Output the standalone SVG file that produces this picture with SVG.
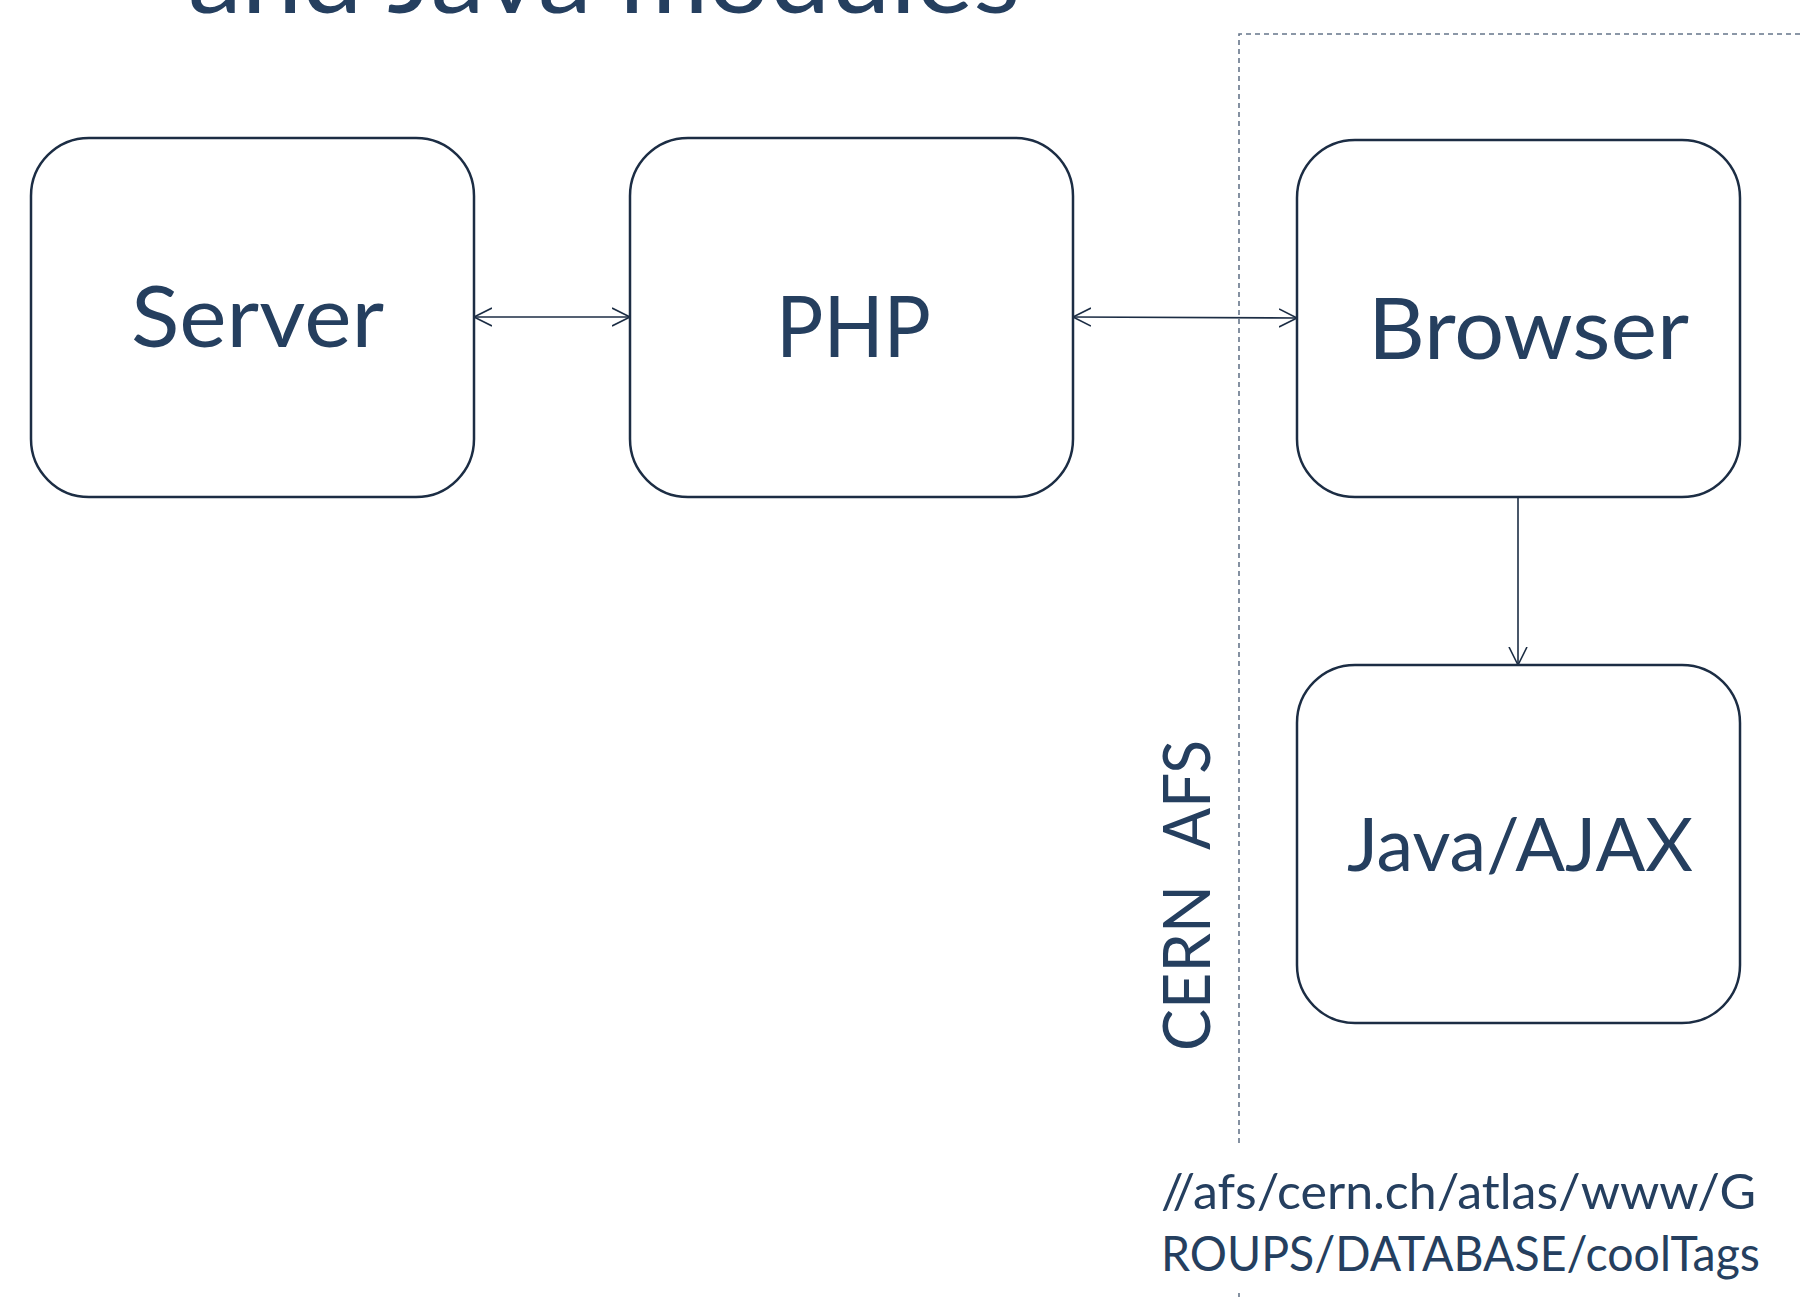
<svg xmlns="http://www.w3.org/2000/svg" width="1800" height="1297" viewBox="0 0 1800 1297">
  <style>
    .box { fill: #ffffff; stroke: #1c2d44; stroke-width: 2.5; }
    .lbl { font-family: Lato, "Open Sans", "Liberation Sans", sans-serif; fill: #253f5f; }
    .conn { stroke: #1c2d44; stroke-width: 1.6; fill: none; }
    .dash { stroke: #66768a; stroke-width: 1.6; fill: none; stroke-dasharray: 5 4; }
  </style>
  <defs>
    <marker id="arr" markerUnits="userSpaceOnUse" markerWidth="22" markerHeight="22" refX="18" refY="10" orient="auto-start-reverse" viewBox="0 0 22 20">
      <path d="M0,1 L18,10 L0,19" fill="none" stroke="#1c2d44" stroke-width="1.6"/>
    </marker>
  </defs>
  <rect width="1800" height="1297" fill="#ffffff"/>

  <text class="lbl" x="188" y="13" font-size="100" textLength="832" lengthAdjust="spacingAndGlyphs">and Java modules</text>

  <g id="boundary">
    <path class="dash" d="M1800,34 H1239 V1143"/>
    <path class="dash" d="M1239,1293 V1297"/>
  </g>

  <g id="connectors">
    <line class="conn" x1="474" y1="317" x2="630" y2="317" marker-start="url(#arr)" marker-end="url(#arr)"/>
    <line class="conn" x1="1073" y1="317" x2="1297" y2="318" marker-start="url(#arr)" marker-end="url(#arr)"/>
    <line class="conn" x1="1518" y1="497" x2="1518" y2="665" marker-end="url(#arr)"/>
  </g>

  <g id="server">
    <rect class="box" x="31" y="138" width="443" height="359" rx="58" ry="58"/>
    <text class="lbl" x="131" y="347" font-size="85" textLength="253" lengthAdjust="spacingAndGlyphs">Server</text>
  </g>

  <g id="php">
    <rect class="box" x="630" y="138" width="443" height="359" rx="58" ry="58"/>
    <text class="lbl" x="776" y="357" font-size="85" textLength="155" lengthAdjust="spacingAndGlyphs">PHP</text>
  </g>

  <g id="browser">
    <rect class="box" x="1297" y="140" width="443" height="357" rx="58" ry="58"/>
    <text class="lbl" x="1368" y="359" font-size="85" textLength="321" lengthAdjust="spacingAndGlyphs">Browser</text>
  </g>

  <g id="java-ajax">
    <rect class="box" x="1297" y="665" width="443" height="358" rx="58" ry="58"/>
    <text class="lbl" x="1347" y="871" font-size="74" textLength="346" lengthAdjust="spacingAndGlyphs">Java/AJAX</text>
  </g>

  <g id="cern-afs">
    <text class="lbl" transform="translate(1210,1051) rotate(-90)" font-size="66"><tspan x="0" textLength="166" lengthAdjust="spacingAndGlyphs">CERN</tspan> <tspan x="201" textLength="110" lengthAdjust="spacingAndGlyphs">AFS</tspan></text>
  </g>

  <g id="afs-path">
    <text class="lbl" x="1161" y="1209" font-size="49" textLength="595" lengthAdjust="spacingAndGlyphs">//afs/cern.ch/atlas/www/G</text>
    <text class="lbl" x="1161" y="1271" font-size="49" textLength="599" lengthAdjust="spacingAndGlyphs">ROUPS/DATABASE/coolTags</text>
  </g>
</svg>
